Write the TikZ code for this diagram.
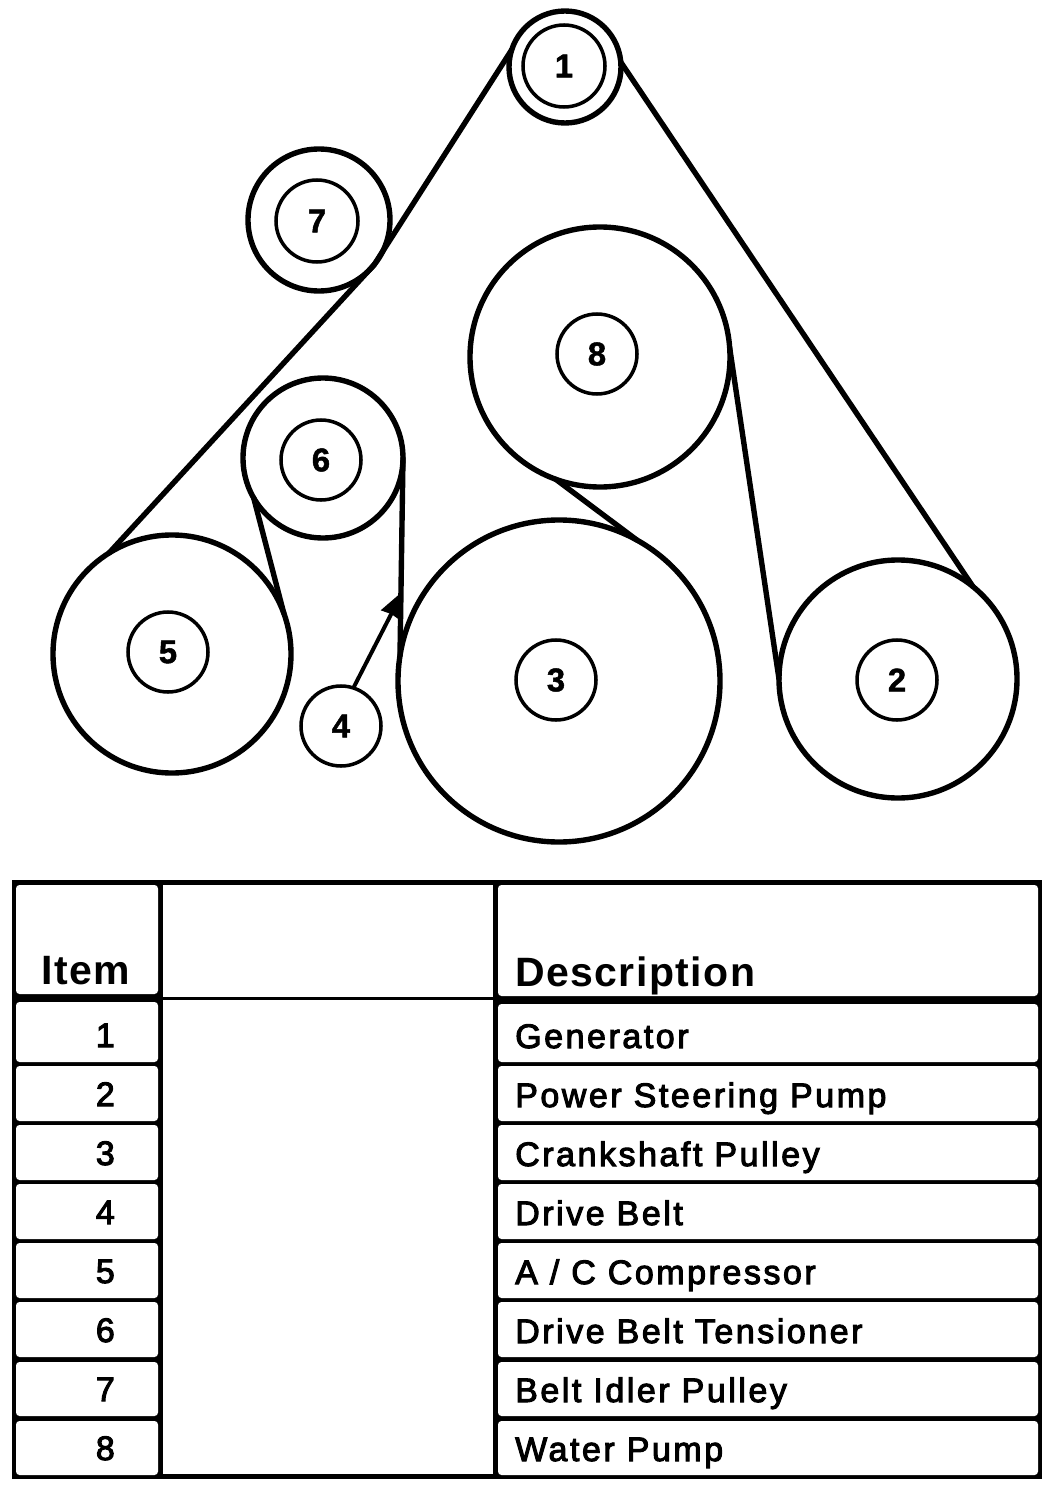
\documentclass[tikz,border=0pt]{standalone}
\usepackage{fontspec}
\setmainfont{Liberation Sans}
\newfontfamily\rowfont[LetterSpace=7.5,FakeBold=3]{Liberation Sans}
\newfontfamily\headfont[LetterSpace=3.5]{Liberation Sans Bold}
\newfontfamily\hubfont[FakeBold=1.5]{Liberation Sans Bold}
\usetikzlibrary{arrows.meta}
\tikzset{
  rim/.style={circle,draw,line width=4.6pt,inner sep=0pt,outer sep=0pt,minimum size={#1*0.06cm}},
  hub/.style={circle,draw,line width=3pt,inner sep=0pt,outer sep=0pt,minimum size={#1*0.06cm},
    font=\hubfont\fontsize{28}{30}\selectfont},
  belt/.style={line width=4.6pt,line cap=round},
  rowtext/.style={inner sep=0pt,font=\rowfont\fontsize{29}{31}\selectfont},
  headtext/.style={inner sep=0pt,anchor=base west,font=\headfont\fontsize{35}{37}\selectfont},
}
\begin{document}
\begin{tikzpicture}[x=0.03cm,y=-0.03cm]
  \useasboundingbox (0,0) rectangle (1056,1491);

  % pulleys
  \node[rim=56] (rim1) at (565,67) {};
  \node[hub=41] (hub1) at (564,66) {1};
  \node[rim=119] (rim2) at (898,679) {};
  \node[hub=40] (hub2) at (897,680) {2};
  \node[rim=161] (rim3) at (559,681) {};
  \node[hub=40] (hub3) at (556,680) {3};
  \node[hub=40] (hub4) at (341,726) {4};
  \node[rim=119] (rim5) at (172,654) {};
  \node[hub=40] (hub5) at (168,652) {5};
  \node[rim=80] (rim6) at (323,458) {};
  \node[hub=40] (hub6) at (321,460) {6};
  \node[rim=71] (rim7) at (319,220) {};
  \node[hub=41] (hub7) at (317,221) {7};
  \node[rim=130] (rim8) at (600,357) {};
  \node[hub=40] (hub8) at (597,354) {8};

  % drive belt runs
  \draw[belt] (rim1.5) -- (rim2.51);
  \draw[belt] (rim2.180) -- (rim8.4);
  \draw[belt] (rim8.-110) -- (rim3.61);
  \draw[belt] (rim3.171) -- (rim6.0);
  \draw[belt] (rim6.210) -- (rim5.20);
  \draw[belt] (rim5.122) -- (rim7.-39);
  \draw[belt] (rim7.-39) -- (rim1.162);

  % pointer from item 4
  \coordinate (belttip) at (403,591);
  \draw[line width=3.4pt,-{Stealth[length=23pt,width=18pt,inset=1pt]}] (hub4.72) -- (belttip);

  % table grid
  \fill (12,880) rectangle (1042,1479);
  \fill[white,rounded corners=3pt] (16,885) rectangle (158,994);
  \fill[white] (163,885) rectangle (493,997);
  \fill[white] (163,1000) rectangle (493,1474);
  \fill[white,rounded corners=3pt] (498,885) rectangle (1038,996);

  % table text
  \node[headtext] (headitem) at (41,984) {Item};
  \node[headtext] (headdesc) at (515,986) {Description};
  \foreach \n/\ytop/\txt in {1/1002/Generator,2/1066/Power Steering Pump,3/1125/Crankshaft Pulley,
      4/1184/Drive Belt,5/1243/{A / C Compressor},6/1302/Drive Belt Tensioner,
      7/1362/Belt Idler Pulley,8/1421/Water Pump}
  {
    \fill[white,rounded corners=3pt] (16,\ytop) rectangle (158,{1062+59*(\n-1)});
    \fill[white,rounded corners=3pt] (498,{\ytop+2*(\n==1)}) rectangle (1038,{1062+59*(\n-1)});
    \node[rowtext,anchor=base east] (item\n) at (115,{1047+59*(\n-1)}) {\n};
    \node[rowtext,anchor=base west] (desc\n) at (515,{1048+59*(\n-1)}) {\txt};
  }
\end{tikzpicture}
\end{document}
